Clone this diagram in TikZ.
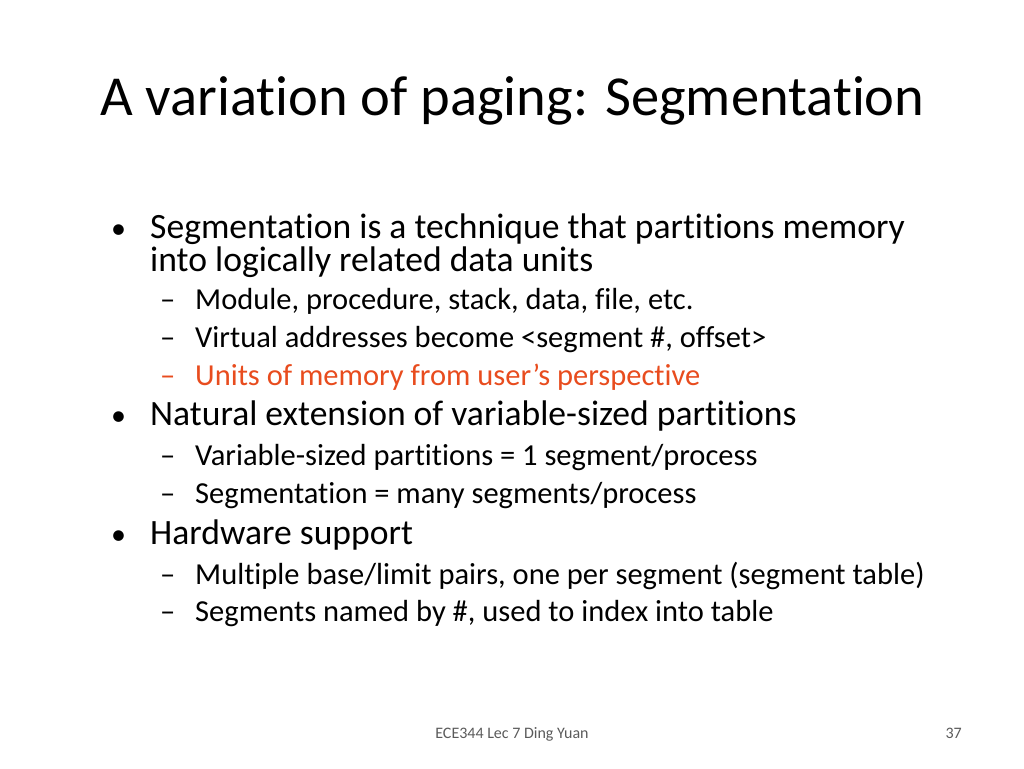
\documentclass[tikz,border=0pt]{standalone}
\usepackage{fontspec}
\setmainfont[Ligatures=NoCommon]{Carlito}
\definecolor{redt}{RGB}{232,76,30}
\definecolor{foot}{RGB}{90,90,90}
\begin{document}
\begin{tikzpicture}[x=1pt,y=-1pt,
  txt/.style={anchor=base west,inner sep=0pt},
  lone/.style={txt,font=\fontsize{35.6}{40}\selectfont},
  ltwo/.style={txt,font=\fontsize{30.5}{34}\selectfont}]
\useasboundingbox (0,0) rectangle (1024,768);
\node[txt,font=\fontsize{56.5}{64}\selectfont] (title) at (100,115) {A variation of paging: Segmentation};
\node[txt,font=\fontsize{30}{34}\selectfont] (b1) at (111,238) {•};
\node[lone] (t1) at (150,238) {Segmentation is a technique that partitions memory};
\node[lone] (t1b) at (150,271) {into logically related data units};
\node[ltwo] (d1) at (160,309) {–};
\node[ltwo] (s1) at (195,309) {Module, procedure, stack, data, file, etc.};
\node[ltwo] (d2) at (160,347) {–};
\node[ltwo] (s2) at (195,347) {Virtual addresses become <segment \#, offset>};
\node[ltwo,text=redt] (d3) at (160,385) {–};
\node[ltwo,text=redt] (s3) at (195,385) {Units of memory from user’s perspective};
\node[txt,font=\fontsize{30}{34}\selectfont] (b2) at (111,425) {•};
\node[lone] (t2) at (150,425) {Natural extension of variable-sized partitions};
\node[ltwo] (d4) at (160,465) {–};
\node[ltwo] (s4) at (195,465) {Variable-sized partitions = 1 segment/process};
\node[ltwo] (d5) at (160,503) {–};
\node[ltwo] (s5) at (195,503) {Segmentation = many segments/process};
\node[txt,font=\fontsize{30}{34}\selectfont] (b3) at (111,544) {•};
\node[lone] (t3) at (150,544) {Hardware support};
\node[ltwo] (d6) at (160,584) {–};
\node[ltwo] (s6) at (195,584) {Multiple base/limit pairs, one per segment (segment table)};
\node[ltwo] (d7) at (160,621) {–};
\node[ltwo] (s7) at (195,621) {Segments named by \#, used to index into table};
\node[anchor=base,inner sep=0pt,font=\fontsize{16}{19}\selectfont,text=foot] (f) at (512,738) {ECE344 Lec 7 Ding Yuan};
\node[anchor=base east,inner sep=0pt,font=\fontsize{16}{19}\selectfont,text=foot] (pg) at (962,738) {37};
\end{tikzpicture}
\end{document}
